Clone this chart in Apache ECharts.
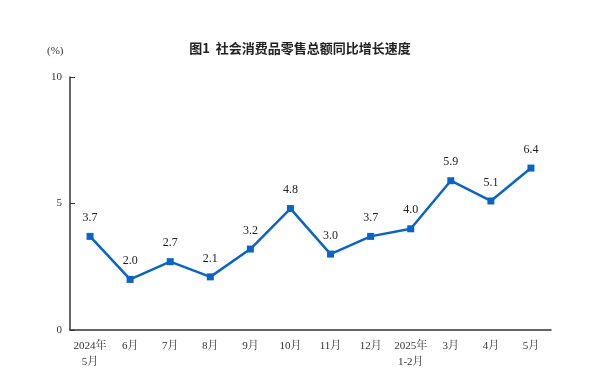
<!DOCTYPE html>
<html>
<head>
<meta charset="utf-8">
<script src="https://cdn.jsdelivr.net/npm/echarts@6/dist/echarts.min.js"></script>
<style>
  html, body { margin: 0; padding: 0; background: #fff; }
  #main { width: 600px; height: 378px; }
</style>
</head>
<body>
<div id="main"></div>
<script>
// 月份
var months = ['2024年\n5月', '6月', '7月', '8月', '9月', '10月', '11月', '12月', '2025年\n1-2月', '3月', '4月', '5月'];
// 同比增长(%)
var growth = [3.7, 2.0, 2.7, 2.1, 3.2, 4.8, 3.0, 3.7, 4.0, 5.9, 5.1, 6.4];
var yTicks = [0, 5, 10];

var serif = '"Liberation Serif", "Noto Serif CJK SC", "Noto Sans CJK SC", serif';

var chart = echarts.init(document.getElementById('main'));
chart.setOption({
    animation: false,
    title: {
        text: '图1  社会消费品零售总额同比增长速度',
        left: 'center',
        top: 37,
        textStyle: {
            fontFamily: '"Noto Sans CJK SC", sans-serif',
            fontSize: 13,
            fontWeight: 'bold',
            color: '#222'
        }
    },
    graphic: [{
        type: 'text',
        left: 47,
        top: 46,
        style: { text: '(%)', font: '11px ' + serif, fill: '#333' }
    }],
    grid: { left: 70, right: 49, top: 77, bottom: 48 },
    xAxis: {
        type: 'category',
        data: months,
        boundaryGap: true,
        axisLine: { lineStyle: { color: '#333', width: 1.5 } },
        axisTick: { inside: true, length: 4, lineStyle: { color: '#333' } },
        axisLabel: {
            color: '#333',
            fontFamily: serif,
            fontSize: 11,
            lineHeight: 16,
            margin: 8,
            interval: 0
        }
    },
    yAxis: {
        type: 'value',
        min: yTicks[0],
        max: yTicks[yTicks.length - 1],
        interval: 5,
        splitLine: { show: false },
        axisLine: { show: true, lineStyle: { color: '#333', width: 1.5 } },
        axisTick: { show: true, inside: true, length: 5, lineStyle: { color: '#333' } },
        axisLabel: { color: '#333', fontFamily: serif, fontSize: 11, margin: 8 }
    },
    series: [{
        type: 'line',
        data: growth,
        symbol: 'rect',
        symbolSize: 7,
        lineStyle: { color: '#0a64c8', width: 2.5 },
        itemStyle: { color: '#0a64c8' },
        label: {
            show: true,
            position: 'top',
            distance: 9,
            color: '#222',
            fontFamily: serif,
            fontSize: 12,
            formatter: function (p) { return p.value.toFixed(1); }
        }
    }]
});
</script>
</body>
</html>
